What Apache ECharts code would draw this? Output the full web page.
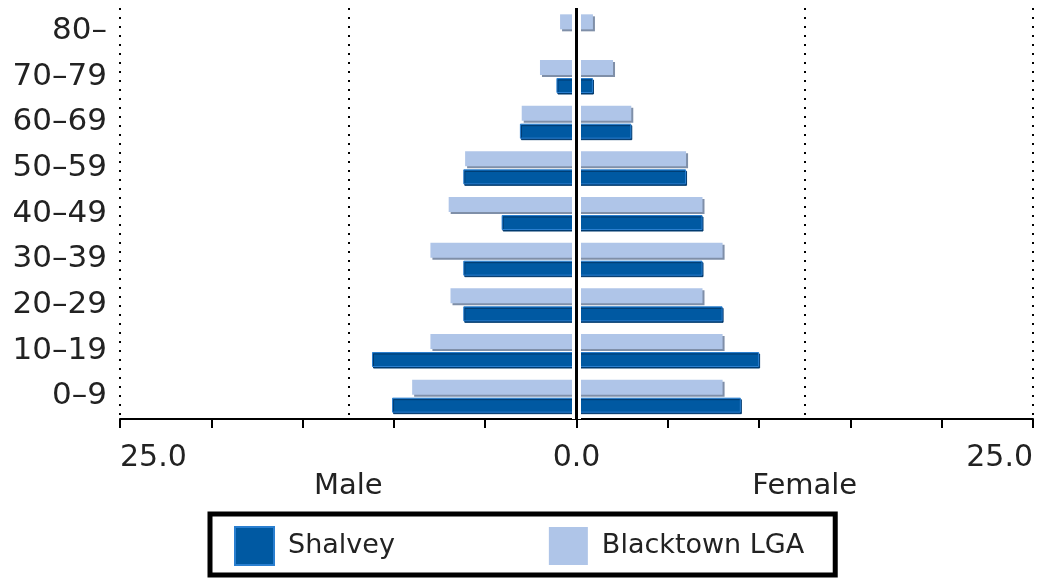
<!DOCTYPE html>
<html>
<head>
<meta charset="utf-8">
<script src="https://cdn.jsdelivr.net/npm/echarts@6/dist/echarts.min.js"></script>
<style>
html,body{margin:0;padding:0;background:#fff;}
#c{width:1038px;height:579px;}
</style>
</head>
<body>
<div id="c"></div>
<script>
const categories = ['0–9','10–19','20–29','30–39','40–49','50–59','60–69','70–79','80–'];
const shalveyMale   = [10.1, 11.2, 6.2, 6.2, 4.1, 6.2, 3.1, 1.1, 0];
const shalveyFemale = [9.0, 10.0, 8.0, 6.9, 6.9, 6.0, 3.0, 0.9, 0];
const blacktownMale   = [9.0, 8.0, 6.9, 8.0, 7.0, 6.1, 3.0, 2.0, 0.9];
const blacktownFemale = [8.0, 8.0, 6.9, 8.0, 6.9, 6.0, 3.0, 2.0, 0.9];
const axisMin = -25, axisMax = 25, tickStep = 5, gridStep = 12.5;
const sideNames = {'-12.5':'Male','12.5':'Female'};

const FONT = 'DejaVu Sans';
const darkStyle = {color:'#0059a2', borderColor:'#2a7fd0', borderWidth:1, shadowColor:'#003a6e', shadowOffsetX:1, shadowOffsetY:1.5, shadowBlur:0};
const lightStyle = {color:'#afc5e8', shadowColor:'#7f8fa8', shadowOffsetX:2, shadowOffsetY:2, shadowBlur:0};

const chart = echarts.init(document.getElementById('c'), null, {renderer:'canvas'});
const common = {type:'bar', barWidth:15, barGap:'20%', animation:false, silent:true};
chart.setOption({
  animation:false,
  textStyle:{fontFamily:FONT},
  grid:{left:120, right:5, top:8, bottom:160},
  legend:{
    left:210, top:514, orient:'horizontal',
    padding:[12,31,9,24],
    itemWidth:39, itemHeight:38, itemGap:154,
    borderColor:'#000', borderWidth:5, borderRadius:0,
    icon:'rect',
    textStyle:{fontSize:27, color:'#222', fontFamily:FONT, padding:[0,0,0,9]},
    data:['Shalvey','Blacktown LGA']
  },
  xAxis:[{
    type:'value', min:axisMin, max:axisMax, interval:tickStep,
    axisLine:{show:true, onZero:false, lineStyle:{color:'#000', width:2}},
    axisTick:{show:true, length:9, lineStyle:{color:'#000', width:2}},
    splitLine:{show:false},
    axisLabel:{
      fontSize:30, color:'#222', fontFamily:FONT, margin:24,
      alignMinLabel:'left', alignMaxLabel:'right',
      formatter:function(v){ return (v===axisMin||v===0||v===axisMax) ? Math.abs(v).toFixed(1) : ''; }
    }
  },{
    type:'value', min:axisMin, max:axisMax, interval:gridStep, position:'bottom',
    axisLine:{show:false}, axisTick:{show:false},
    splitLine:{show:true, lineStyle:{color:'#000', width:2, type:[2,7]}},
    axisLabel:{
      fontSize:29, color:'#222', fontFamily:FONT, margin:53,
      formatter:function(v){ return sideNames[String(v)] || ''; }
    }
  }],
  yAxis:{
    type:'category', data:categories,
    axisLine:{show:false}, axisTick:{show:false},
    axisLabel:{fontSize:31, color:'#222', fontFamily:FONT, margin:13}
  },
  series:[
    Object.assign({name:'Blacktown LGA', stack:'b', itemStyle:lightStyle, data:blacktownMale.map(v=>-v)}, common),
    Object.assign({name:'Blacktown LGA', stack:'b', itemStyle:lightStyle, data:blacktownFemale}, common),
    Object.assign({name:'Shalvey', stack:'s', itemStyle:darkStyle, data:shalveyMale.map(v=>-v)}, common),
    Object.assign({name:'Shalvey', stack:'s', itemStyle:darkStyle, data:shalveyFemale,
      markLine:{silent:true, symbol:'none', animation:false, label:{show:false},
        data:[
          {xAxis:0, lineStyle:{color:'#fff', width:9, type:'solid'}},
          {xAxis:0, lineStyle:{color:'#000', width:3, type:'solid'}}
        ]}}, common)
  ]
});
</script>
</body>
</html>
